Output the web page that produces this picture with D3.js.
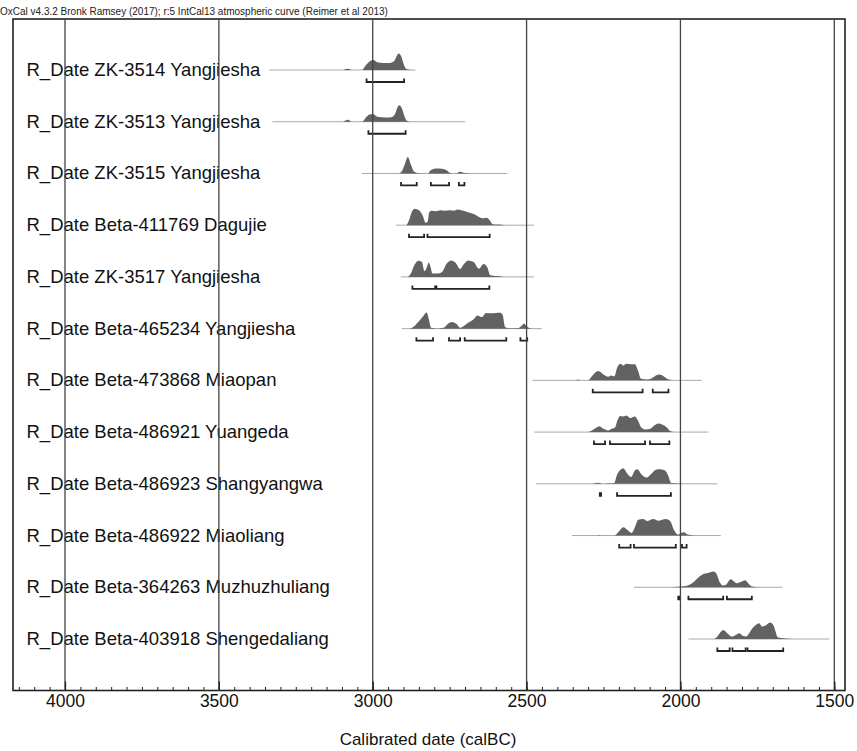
<!DOCTYPE html>
<html>
<head>
<meta charset="utf-8">
<script src="https://cdn.jsdelivr.net/npm/d3@7"></script>
<style>
  body { margin: 0; background: #fff; }
  svg { display: block; font-family: "Liberation Sans", Arial, sans-serif; }
</style>
</head>
<body>
<div id="chart-area"></div>
<script>
// Sample names, top to bottom
const labels = [
  "R_Date ZK-3514 Yangjiesha",
  "R_Date ZK-3513 Yangjiesha",
  "R_Date ZK-3515 Yangjiesha",
  "R_Date Beta-411769 Dagujie",
  "R_Date ZK-3517 Yangjiesha",
  "R_Date Beta-465234 Yangjiesha",
  "R_Date Beta-473868 Miaopan",
  "R_Date Beta-486921 Yuangeda",
  "R_Date Beta-486923 Shangyangwa",
  "R_Date Beta-486922 Miaoliang",
  "R_Date Beta-364263 Muzhuzhuliang",
  "R_Date Beta-403918 Shengedaliang"
];

// Extent of the calculation line for each row (calBC)
const lineStart = [3336, 3326, 3035, 2924, 2909, 2906, 2481, 2475, 2469, 2353, 2151, 1974];
const lineEnd   = [2861, 2700, 2563, 2476, 2476, 2451, 1931, 1909, 1880, 1869, 1668, 1516];

// Probability distributions [year calBC, relative probability]
const densities = [
  [[3095,0],[3080,0.07],[3068,0],[3035,0],[3022,0.3],[3008,0.55],[2998,0.6],[2985,0.47],[2965,0.42],[2945,0.43],[2930,0.55],[2922,0.85],[2915,1.0],[2908,0.85],[2900,0.4],[2892,0.08],[2880,0.02],[2870,0]],
  [[3095,0],[3080,0.12],[3068,0],[3035,0],[3020,0.3],[3008,0.45],[2998,0.45],[2985,0.3],[2960,0.25],[2940,0.27],[2928,0.45],[2920,0.85],[2914,1.0],[2906,0.85],[2898,0.4],[2890,0.08],[2875,0]],
  [[2915,0],[2906,0.12],[2896,0.55],[2886,1.0],[2876,0.55],[2866,0.12],[2855,0.03],[2840,0],[2820,0],[2812,0.2],[2795,0.3],[2775,0.28],[2760,0.2],[2750,0.05],[2740,0],[2728,0],[2718,0.1],[2705,0.05],[2690,0.02],[2675,0]],
  [[2890,0],[2882,0.3],[2872,0.85],[2863,1.0],[2850,0.9],[2838,0.6],[2828,0.15],[2822,0.2],[2816,0.8],[2808,0.88],[2795,0.85],[2780,0.9],[2765,0.87],[2750,0.9],[2735,0.88],[2725,0.95],[2712,0.9],[2700,0.85],[2685,0.75],[2668,0.65],[2655,0.5],[2640,0.42],[2630,0.45],[2620,0.3],[2610,0.06],[2595,0.04],[2580,0.03],[2570,0]],
  [[2885,0],[2876,0.2],[2865,0.7],[2851,0.98],[2840,0.9],[2832,0.35],[2824,0.6],[2818,0.88],[2812,0.6],[2806,0.2],[2790,0.2],[2775,0.3],[2760,0.8],[2745,1.0],[2730,0.85],[2716,0.48],[2705,0.75],[2690,1.0],[2672,0.9],[2655,0.5],[2640,0.78],[2628,0.6],[2618,0.1],[2600,0.05],[2582,0.02],[2575,0]],
  [[2880,0],[2868,0.1],[2852,0.4],[2838,0.7],[2825,0.98],[2818,0.6],[2810,0.05],[2790,0],[2770,0.05],[2755,0.3],[2743,0.4],[2728,0.3],[2716,0.05],[2705,0.15],[2690,0.35],[2673,0.55],[2660,0.8],[2645,0.7],[2632,0.95],[2615,0.93],[2600,0.95],[2586,0.96],[2578,0.85],[2570,0.1],[2560,0.03],[2530,0.02],[2518,0.15],[2508,0.3],[2498,0.12],[2485,0]],
  [[2340,0],[2332,0.05],[2322,0],[2300,0],[2288,0.25],[2267,0.56],[2250,0.35],[2235,0.22],[2225,0.3],[2215,0.25],[2205,0.8],[2195,1.0],[2186,0.9],[2175,1.0],[2160,0.98],[2148,0.98],[2138,0.6],[2128,0.1],[2110,0.05],[2094,0.12],[2080,0.3],[2068,0.35],[2055,0.25],[2040,0.06],[2028,0]],
  [[2300,0],[2288,0.1],[2275,0.25],[2264,0.36],[2250,0.2],[2235,0.1],[2223,0.2],[2212,0.3],[2205,0.7],[2196,0.98],[2185,0.95],[2175,1.0],[2164,0.85],[2148,0.95],[2138,0.7],[2128,0.3],[2112,0.15],[2098,0.2],[2085,0.4],[2072,0.52],[2058,0.45],[2045,0.3],[2032,0.05],[2020,0]],
  [[2285,0],[2267,0.07],[2250,0],[2232,0.03],[2215,0.05],[2207,0.5],[2195,0.85],[2186,0.94],[2172,0.6],[2160,0.42],[2148,0.8],[2140,0.88],[2128,0.6],[2110,0.38],[2095,0.6],[2080,0.85],[2068,0.88],[2050,0.8],[2040,0.5],[2030,0.05],[2000,0.02],[1980,0]],
  [[2270,0],[2264,0.03],[2256,0],[2215,0],[2202,0.2],[2186,0.5],[2170,0.3],[2159,0.15],[2148,0.5],[2137,0.95],[2121,1.0],[2108,0.88],[2088,1.0],[2072,0.9],[2047,1.0],[2034,0.9],[2020,0.3],[2007,0.05],[1998,0.15],[1989,0.2],[1978,0.08],[1965,0.03],[1953,0]],
  [[2030,0],[2010,0.03],[1990,0.06],[1974,0.12],[1955,0.35],[1947,0.5],[1931,0.75],[1909,0.88],[1893,0.96],[1884,0.85],[1872,0.3],[1862,0.1],[1852,0.15],[1837,0.48],[1817,0.25],[1800,0.35],[1790,0.42],[1778,0.2],[1768,0.05],[1745,0]],
  [[1890,0],[1880,0.15],[1868,0.45],[1860,0.55],[1848,0.35],[1833,0.15],[1820,0.25],[1809,0.35],[1798,0.2],[1787,0.15],[1775,0.4],[1768,0.6],[1755,0.85],[1744,0.95],[1735,0.75],[1725,0.8],[1709,1.0],[1697,0.8],[1690,0.4],[1684,0.1],[1665,0.04],[1636,0]]
];

// Highest posterior density ranges [from, to] calBC
const hpdRanges = [
  [[3020,2898]],
  [[3014,2893]],
  [[2908,2857],[2811,2752],[2720,2702]],
  [[2882,2833],[2822,2620]],
  [[2871,2797],[2793,2621]],
  [[2858,2804],[2752,2716],[2701,2566],[2520,2498]],
  [[2285,2123],[2090,2039]],
  [[2281,2245],[2229,2115],[2099,2036]],
  [[2262,2258],[2206,2031]],
  [[2199,2162],[2151,2015],[1995,1980]],
  [[2007,2002],[1974,1861],[1849,1768]],
  [[1880,1840],[1831,1788],[1782,1666]]
];

const majorTicks = [4000, 3500, 3000, 2500, 2000, 1500];

const W = 857, H = 751;
const frame = { left: 13, right: 845, top: 19, bottom: 690.5 };

const svg = d3.select("#chart-area").append("svg")
    .attr("width", W)
    .attr("height", H);

// Scales
const x = d3.scaleLinear().domain([4000, 1500]).range([65, 834.3]);
const y = d3.scalePoint().domain(labels).range([70, 639]);
const p = d3.scaleLinear().domain([0, 1]).range([0, 16.5]);

// Header
svg.append("text")
    .attr("x", 0)
    .attr("y", 15)
    .attr("font-size", 10)
    .attr("fill", "#222")
    .text("OxCal v4.3.2 Bronk Ramsey (2017); r:5 IntCal13 atmospheric curve (Reimer et al 2013)");

// Frame
svg.append("rect")
    .attr("x", frame.left)
    .attr("y", frame.top)
    .attr("width", frame.right - frame.left)
    .attr("height", frame.bottom - frame.top)
    .attr("fill", "none")
    .attr("stroke", "#222")
    .attr("stroke-width", 1.6);

// Rows
labels.forEach((name, i) => {
    const y0 = y(name);
    const row = svg.append("g");

    row.append("text")
        .attr("x", 26.5)
        .attr("y", y0 + 6)
        .attr("font-size", 18.5)
        .attr("fill", "#111")
        .text(name);

    row.append("line")
        .attr("x1", x(lineStart[i]))
        .attr("x2", x(lineEnd[i]))
        .attr("y1", y0)
        .attr("y2", y0)
        .attr("stroke", "#aaa")
        .attr("stroke-width", 1);

    const area = d3.area()
        .curve(d3.curveMonotoneX)
        .x(d => x(d[0]))
        .y0(y0)
        .y1(d => y0 - p(d[1]));

    row.append("path")
        .datum(densities[i])
        .attr("fill", "#626262")
        .attr("d", area);

    hpdRanges[i].forEach(r => {
        const x1 = x(r[0]), x2 = x(r[1]), yb = y0 + 12;
        row.append("path")
            .attr("d", `M${x1},${yb - 3.5}V${yb}H${x2}V${yb - 3.5}`)
            .attr("fill", "none")
            .attr("stroke", "#222")
            .attr("stroke-width", 1.8);
    });
});

// Vertical gridlines
svg.append("g")
    .selectAll("line")
    .data(majorTicks.filter(d => x(d) < frame.right - 2))
    .join("line")
    .attr("x1", d => x(d))
    .attr("x2", d => x(d))
    .attr("y1", frame.top)
    .attr("y2", frame.bottom)
    .attr("stroke", "#444")
    .attr("stroke-width", 1.3);

// Minor ticks every 50 years
const minorAxis = d3.axisBottom(x)
    .tickValues(d3.range(4150, 1450, -50))
    .tickSize(-3.5)
    .tickFormat("");

svg.append("g")
    .attr("transform", `translate(0, ${frame.bottom})`)
    .call(minorAxis)
    .call(g => g.select(".domain").remove())
    .call(g => g.selectAll("line").attr("stroke", "#222"));

// Major ticks with labels
const majorAxis = d3.axisBottom(x)
    .tickValues(majorTicks)
    .tickSize(-9)
    .tickPadding(4.5)
    .tickFormat(d3.format("d"));

svg.append("g")
    .attr("transform", `translate(0, ${frame.bottom})`)
    .call(majorAxis)
    .call(g => g.select(".domain").remove())
    .call(g => g.selectAll("line").attr("stroke", "#222").attr("stroke-width", 1.3))
    .call(g => g.selectAll("text")
        .attr("font-size", 17.5)
        .attr("font-family", "Liberation Sans, Arial, sans-serif")
        .attr("fill", "#111"));

// Axis title
svg.append("text")
    .attr("x", 428)
    .attr("y", 745)
    .attr("text-anchor", "middle")
    .attr("font-size", 17)
    .attr("fill", "#111")
    .text("Calibrated date (calBC)");
</script>
</body>
</html>
